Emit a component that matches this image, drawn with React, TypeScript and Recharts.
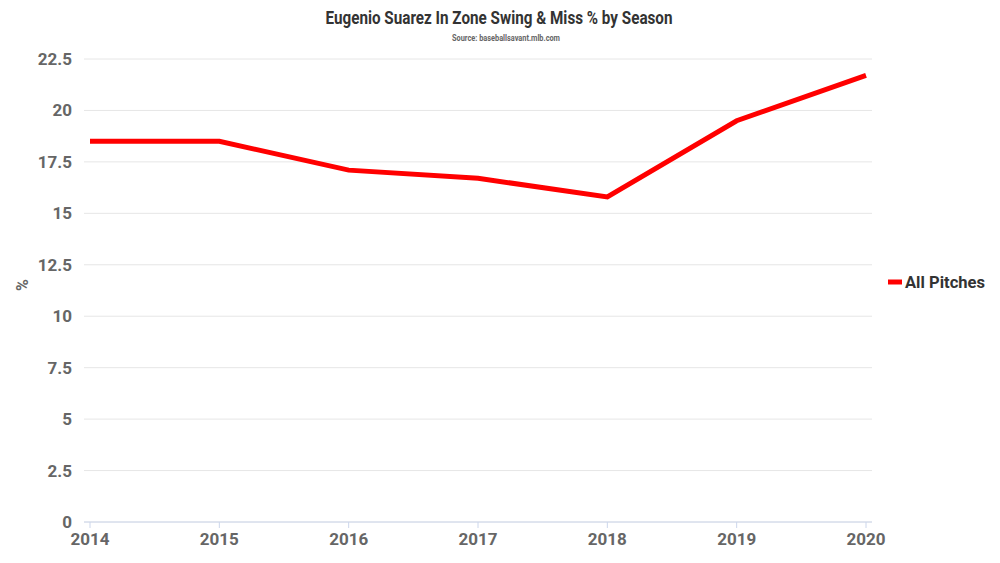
import React from "react";
import { LineChart, Line, XAxis, YAxis, CartesianGrid } from "recharts";

const seasons = ["2014", "2015", "2016", "2017", "2018", "2019", "2020"];
const allPitches = [18.5, 18.5, 17.1, 16.7, 15.8, 19.5, 21.7];
const yTicks = [0, 2.5, 5, 7.5, 10, 12.5, 15, 17.5, 20, 22.5];

const data = seasons.map((s, i) => ({ season: s, all: allPitches[i] }));

const font = "Roboto, 'DejaVu Sans', sans-serif";

const App: React.FC = () => (
  <div style={{ position: "absolute", left: 0, top: 0, width: 1000, height: 563, background: "#fff", fontFamily: font }}>
    <LineChart width={1000} height={563} data={data} margin={{ top: 59, right: 128, left: 0, bottom: 11 }}>
      <CartesianGrid vertical={false} stroke="#e6e6e6" />
      <XAxis
        dataKey="season"
        padding={{ left: 6, right: 6 }}
        height={30}
        stroke="#ccd6eb"
        tickSize={6}
        tickMargin={5}
        tick={{ fill: "#666", fontSize: 17, fontWeight: 700, fontFamily: font }}
        interval={0}
      />
      <YAxis
        domain={[0, 22.5]}
        ticks={yTicks}
        width={84}
        axisLine={false}
        tickLine={false}
        tickMargin={6}
        tick={{ fill: "#666", fontSize: 17, fontWeight: 700, fontFamily: font }}
      />
      <Line
        type="linear"
        dataKey="all"
        stroke="#ff0000"
        strokeWidth={5}
        dot={false}
        activeDot={false}
        isAnimationActive={false}
      />
    </LineChart>
    <svg width={1000} height={563} style={{ position: "absolute", left: 0, top: 0, pointerEvents: "none" }}>
      <text x={499} y={24} textAnchor="middle" fontSize={18} fontWeight={700} fill="#333" fontFamily={font} textLength={347} lengthAdjust="spacingAndGlyphs">
        Eugenio Suarez In Zone Swing &amp; Miss % by Season
      </text>
      <text x={506} y={41} textAnchor="middle" fontSize={9} fontWeight={700} fill="#666" fontFamily={font} textLength={108} lengthAdjust="spacingAndGlyphs">
        Source: baseballsavant.mlb.com
      </text>
      <text x={28} y={285} transform="rotate(-90 28 285)" textAnchor="middle" fontSize={16} fontWeight={700} fill="#666" fontFamily={font}>
        %
      </text>
      <line x1={888} y1={282} x2={902} y2={282} stroke="#ff0000" strokeWidth={5} />
      <text x={905} y={288} fontSize={17} fontWeight={700} fill="#333" fontFamily={font} textLength={80} lengthAdjust="spacingAndGlyphs">
        All Pitches
      </text>
    </svg>
  </div>
);

export default App;
